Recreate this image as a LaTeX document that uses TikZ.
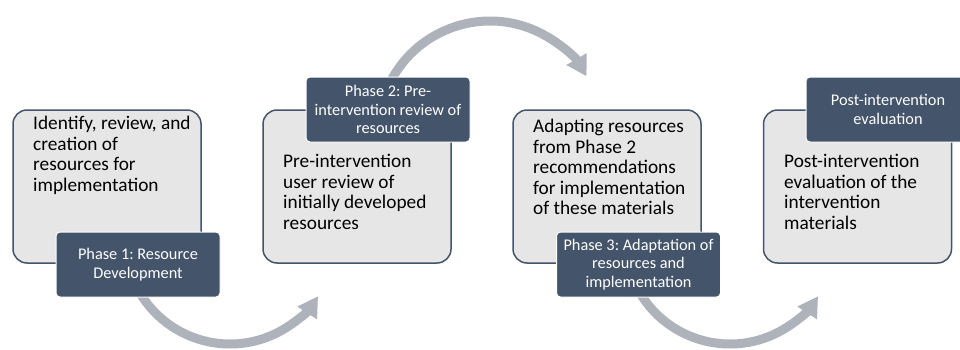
\documentclass[tikz,border=0pt]{standalone}
\usepackage{fontspec}
\setmainfont{Carlito}
\usetikzlibrary{arrows.meta}
\definecolor{slate}{RGB}{68,84,106}
\definecolor{boxfill}{RGB}{231,230,230}
\definecolor{arrowgray}{RGB}{174,178,186}
\frenchspacing
\begin{document}
\begin{tikzpicture}[x=1pt,y=1pt,
  mainbox/.style={draw=slate, line width=1.5pt, fill=boxfill, rounded corners=14pt,
    minimum width=188pt, minimum height=153pt, inner sep=0pt},
  phasebox/.style={draw=white, line width=1pt, fill=slate, rounded corners=4pt,
    minimum width=164pt, minimum height=65pt, inner sep=0pt, align=center,
    text=white, font=\fontsize{16.3}{18.5}\selectfont\frenchspacing},
  maintext/.style={anchor=base west, inner sep=0pt, font=\fontsize{19.3}{20.5}\selectfont\frenchspacing},
  flow/.style={draw=arrowgray, line width=9pt, -{Triangle[length=20pt,width=22pt]}}]
\useasboundingbox (0,0) rectangle (960,349);
\clip (0,0) rectangle (960,349);
% main boxes
\node[mainbox] (b1) at (107,162.5) {};
\node[mainbox] (b2) at (357,162.5) {};
\node[mainbox] (b3) at (607,162.5) {};
\node[mainbox] (b4) at (857.5,162.5) {};
% main texts
\node[maintext] (t1) at (33,219.5) {\begin{minipage}[t]{170pt}Identify, review, and\\creation of\\resources for\\implementation\end{minipage}};
\node[maintext] (t2) at (283,181.2) {\begin{minipage}[t]{170pt}Pre-intervention\\user review of\\initially developed\\resources\end{minipage}};
\node[maintext] (t3) at (533,216.2) {\begin{minipage}[t]{170pt}Adapting resources\\from Phase 2\\recommendations\\for implementation\\of these materials\end{minipage}};
\node[maintext] (t4) at (784,181.5) {\begin{minipage}[t]{170pt}Post-intervention\\evaluation of the\\intervention\\materials\end{minipage}};
% curved arrows
\coordinate (c1) at (230,110);
\coordinate (c2) at (490,216);
\coordinate (c3) at (730,110);
\draw[flow] (c1) ++(210:105pt) arc[start angle=210, end angle=327, radius=105pt];
\draw[flow] (c2) ++(153:112pt) arc[start angle=153, end angle=30.4, radius=112pt];
\draw[flow] (c3) ++(210:105pt) arc[start angle=210, end angle=327, radius=105pt];
% phase labels
\node[phasebox] (p1) at (138,84.5) {Phase 1: Resource\\Development};
\node[phasebox] (p2) at (388,239.5) {Phase 2: Pre-\\intervention review of\\resources};
\node[phasebox] (p3) at (638.5,84.5) {Phase 3: Adaptation of\\resources and\\implementation};
\node[phasebox] (p4) at (888,239.5) {Post-intervention\\evaluation};
\end{tikzpicture}
\end{document}
